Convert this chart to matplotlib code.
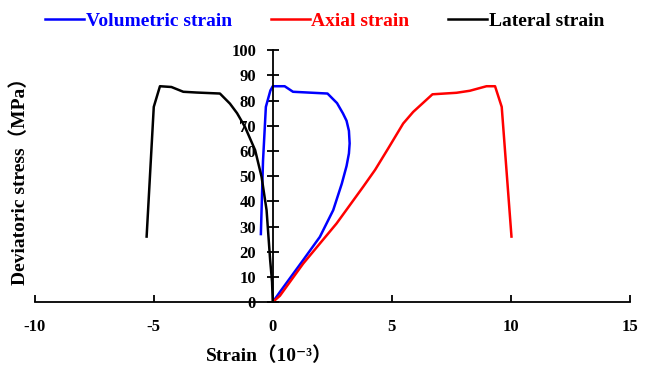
import numpy as np
import matplotlib
matplotlib.use("Agg")
import matplotlib.pyplot as plt

# values (strain in 1e-3, stress in MPa)
axial_x = [0, 0.3, 1.28, 2.68, 3.8, 4.3, 4.85, 5.48, 5.9, 6.71, 7.72, 8.28, 8.98, 9.34, 9.62, 10.03]
axial_y = [0, 2.5, 15.3, 31.2, 45.8, 52.5, 61.0, 70.9, 75.5, 82.5, 83.1, 83.9, 85.7, 85.7, 77.5, 26]

vol_x = [0, 0.3, 1.28, 1.98, 2.54, 2.9, 3.1, 3.2, 3.23, 3.2, 3.1, 2.95, 2.7, 2.3, 0.85, 0.5, 0.0, -0.1, -0.29, -0.41, -0.5]
vol_y = [0, 4, 16.7, 25.9, 36.5, 47, 54, 59, 63, 68, 72, 74.9, 79, 82.8, 83.5, 85.7, 85.7, 84, 77.5, 56, 27]

lat_x = [0, -0.03, -0.11, -0.26, -0.47, -0.74, -1.17, -1.5, -1.8, -2.22, -3.2, -3.76, -4.26, -4.74, -5.0, -5.3]
lat_y = [0, 8, 16.7, 36.5, 49.7, 60.3, 69.6, 75, 78.8, 82.8, 83.2, 83.5, 85.4, 85.7, 77.5, 26]

series_names = ["Volumetric strain", "Axial strain", "Lateral strain"]
series_colors = ["#0000ff", "#ff0000", "#000000"]

xticks = [-10, -5, 0, 5, 10, 15]
yticks = list(range(0, 101, 10))

fonts = ["Liberation Serif", "Noto Sans CJK SC", "DejaVu Serif"]
plt.rcParams["font.family"] = fonts
plt.rcParams["font.weight"] = "bold"
plt.rcParams["axes.unicode_minus"] = False

fig = plt.figure(figsize=(6.56, 3.72), dpi=100)
ax = fig.add_axes([0.053, 0.188, 0.907, 0.677])

lines = []
for xs, ys, c in zip([vol_x, axial_x, lat_x], [vol_y, axial_y, lat_y], series_colors):
    ln, = ax.plot(xs, ys, color=c, lw=1.8, solid_joinstyle="round")
    lines.append(ln)

ax.set_xlim(-10, 15)
ax.set_ylim(0, 100)
ax.spines["top"].set_visible(False)
ax.spines["right"].set_visible(False)
ax.spines["left"].set_position(("data", 0))
for s in ["left", "bottom"]:
    ax.spines[s].set_linewidth(1.3)

ax.set_xticks(xticks)
ax.set_yticks(yticks)
ax.tick_params(axis="x", direction="in", length=5, width=1.3, pad=12, labelsize=12)
ax.tick_params(axis="y", direction="inout", length=8, width=1.3, pad=8, labelsize=12)
for lab in ax.get_xticklabels() + ax.get_yticklabels():
    lab.set_fontweight("bold")

fig.text(0.41, 0.045, "Strain（10⁻³）", ha="center", va="center", fontsize=14, fontweight="bold")
fig.text(0.030, 0.525, "Deviatoric stress（MPa）", ha="center", va="center", rotation=90,
         fontsize=14, fontweight="bold")

leg = fig.legend(lines, series_names, loc="upper center", bbox_to_anchor=(0.495, 1.015), ncol=3,
                 frameon=False, handlelength=2.0, handletextpad=0.1, columnspacing=2.0,
                 prop={"size": 14, "weight": "bold"})
for txt, c in zip(leg.get_texts(), series_colors):
    txt.set_color(c)

fig.savefig("out.png", dpi=100)
